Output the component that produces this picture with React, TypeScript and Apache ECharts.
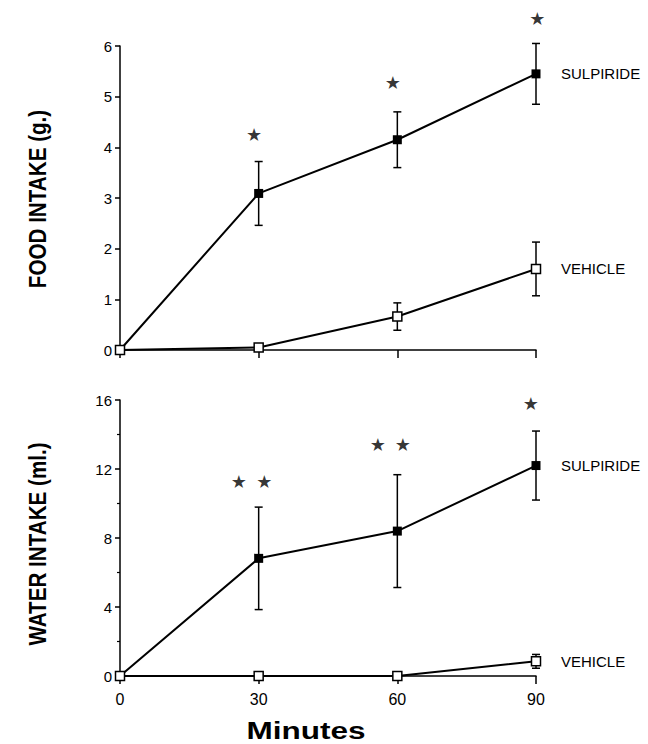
import React, { useEffect, useRef } from "react";
import * as echarts from "echarts";

const minutes = [0, 30, 60, 90];
const foodSulpiride = [0, 3.09, 4.15, 5.45];
const foodSulpirideErr = [0, 0.63, 0.55, 0.6];
const foodVehicle = [0, 0.05, 0.66, 1.6];
const foodVehicleErr = [0, 0, 0.27, 0.53];
const waterSulpiride = [0, 6.82, 8.4, 12.2];
const waterSulpirideErr = [0, 2.97, 3.27, 2.0];
const waterVehicle = [0, 0, 0, 0.85];
const waterVehicleErr = [0, 0, 0, 0.4];
const foodStars = [[29, 4.26], [59, 5.27], [90.3, 6.55]];
const waterStars = [[25.7, 11.3], [31.2, 11.3], [55.8, 13.4], [61.2, 13.4], [88.9, 15.8]];
const seriesNames = ["SULPIRIDE", "VEHICLE"];
const foodAxisTitle = "FOOD INTAKE (g.)";
const waterAxisTitle = "WATER INTAKE (ml.)";
const xAxisTitle = "Minutes";
const starMark = "★";

const FONT = '"Liberation Sans", Arial, Helvetica, sans-serif';

const pairs = (vals: number[]) => minutes.map((m, i) => [m, vals[i]]);
const errData = (vals: number[], errs: number[]) =>
  minutes
    .map((m, i) => [m, vals[i] - errs[i], vals[i] + errs[i], errs[i]])
    .filter((d) => d[3] > 0);

const renderErr = (params: any, api: any) => {
  const x = api.value(0);
  const lo = api.coord([x, api.value(1)]);
  const hi = api.coord([x, api.value(2)]);
  const w = 4;
  const style = { stroke: "#000", lineWidth: 1.5 };
  return {
    type: "group",
    children: [
      { type: "line", shape: { x1: lo[0], y1: lo[1], x2: hi[0], y2: hi[1] }, style },
      { type: "line", shape: { x1: lo[0] - w, y1: lo[1], x2: lo[0] + w, y2: lo[1] }, style },
      { type: "line", shape: { x1: hi[0] - w, y1: hi[1], x2: hi[0] + w, y2: hi[1] }, style },
    ],
  };
};

const axisLine = { lineStyle: { color: "#000", width: 1.5 } };

export default function App() {
  const ref = useRef<HTMLDivElement>(null);
  useEffect(() => {
    if (!ref.current) return;
    const chart = echarts.init(ref.current, undefined, { renderer: "svg" });
    const lineSeries = (name: string, vals: number[], idx: number, open: boolean) => ({
      type: "line",
      name,
      xAxisIndex: idx,
      yAxisIndex: idx,
      data: pairs(vals),
      symbol: "rect",
      symbolSize: 9,
      showAllSymbol: true,
      z: 5,
      lineStyle: { color: "#000", width: 2 },
      itemStyle: open
        ? { color: "#fff", borderColor: "#000", borderWidth: 1.5 }
        : { color: "#000", borderColor: "#000", borderWidth: 0 },
      endLabel: {
        show: true,
        formatter: "{a}",
        distance: 25,
        fontFamily: FONT,
        fontSize: 15,
        color: "#000",
      },
    });
    const errSeries = (vals: number[], errs: number[], idx: number) => ({
      type: "custom",
      xAxisIndex: idx,
      yAxisIndex: idx,
      data: errData(vals, errs),
      renderItem: renderErr,
      encode: { x: 0, y: [1, 2] },
      z: 3,
      clip: false,
    });
    const starSeries = (pts: number[][], idx: number) => ({
      type: "scatter",
      xAxisIndex: idx,
      yAxisIndex: idx,
      data: pts,
      symbolSize: 1,
      clip: false,
      itemStyle: { color: "transparent" },
      label: {
        show: true,
        position: "inside",
        formatter: starMark,
        fontFamily: '"DejaVu Sans", sans-serif',
        fontSize: 18,
        color: "#000",
        offset: [0, 0],
      },
      z: 6,
    });
    const xAxisBase = {
      type: "value",
      min: 0,
      max: 90,
      interval: 30,
      splitLine: { show: false },
      axisLine,
      axisTick: { show: true, inside: false, length: 8, lineStyle: { color: "#000", width: 1.5 } },
    };
    const yAxisBase = {
      type: "value",
      min: 0,
      splitLine: { show: false },
      axisLine: { show: true, ...axisLine },
      axisTick: { show: true, inside: false, length: 5, lineStyle: { color: "#000", width: 1.5 } },
      axisLabel: { fontFamily: FONT, fontSize: 15, color: "#000", margin: 8 },
    };
    const titleStyle = {
      fontFamily: FONT,
      fontWeight: "bold",
      fontSize: 24,
      fill: "#000",
      align: "center",
      verticalAlign: "middle",
    };
    chart.setOption({
      animation: false,
      backgroundColor: "#fff",
      grid: [
        { left: 120, top: 46, width: 416, height: 304 },
        { left: 120, top: 400, width: 416, height: 276 },
      ],
      xAxis: [
        { ...xAxisBase, gridIndex: 0, axisLabel: { show: false } },
        {
          ...xAxisBase,
          gridIndex: 1,
          axisLabel: { fontFamily: FONT, fontSize: 16, color: "#000", margin: 15 },
        },
      ],
      yAxis: [
        { ...yAxisBase, gridIndex: 0, max: 6, interval: 1 },
        {
          ...yAxisBase,
          gridIndex: 1,
          max: 16,
          interval: 4,
          minorTick: { show: true, splitNumber: 2, length: 3, lineStyle: { color: "#000", width: 1.2 } },
        },
      ],
      graphic: [
        {
          type: "text",
          x: 38,
          y: 199,
          rotation: Math.PI / 2,
          scaleX: 0.86,
          style: { ...titleStyle, text: foodAxisTitle },
        },
        {
          type: "text",
          x: 38,
          y: 544,
          rotation: Math.PI / 2,
          scaleX: 0.86,
          style: { ...titleStyle, text: waterAxisTitle },
        },
        {
          type: "text",
          x: 306,
          y: 731,
          scaleX: 1.37,
          style: { ...titleStyle, fontSize: 23, text: xAxisTitle },
        },
      ],
      series: [
        errSeries(foodSulpiride, foodSulpirideErr, 0),
        errSeries(foodVehicle, foodVehicleErr, 0),
        lineSeries(seriesNames[0], foodSulpiride, 0, false),
        lineSeries(seriesNames[1], foodVehicle, 0, true),
        starSeries(foodStars, 0),
        errSeries(waterSulpiride, waterSulpirideErr, 1),
        errSeries(waterVehicle, waterVehicleErr, 1),
        lineSeries(seriesNames[0], waterSulpiride, 1, false),
        lineSeries(seriesNames[1], waterVehicle, 1, true),
        starSeries(waterStars, 1),
      ],
    });
    return () => chart.dispose();
  }, []);
  return (
    <div
      ref={ref}
      style={{ position: "fixed", left: 0, top: 0, width: 648, height: 744, background: "#fff" }}
    />
  );
}
